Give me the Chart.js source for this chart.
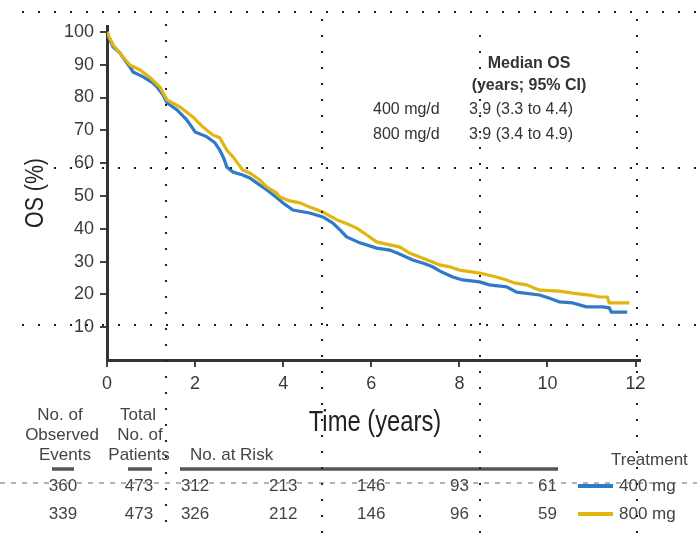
<!DOCTYPE html>
<html>
<head>
<meta charset="utf-8">
<script src="https://cdn.jsdelivr.net/npm/chart.js@4.4.1/dist/chart.umd.min.js"></script>
<style>
  html, body { margin: 0; padding: 0; background: #fff; }
  #wrap { width: 697px; height: 535px; }
</style>
</head>
<body>
<div id="wrap"><canvas id="osChart"></canvas></div>
<script>
// KM curves (time in years, OS in %)
const time400 = [0, 0.05, 0.14, 0.29, 0.4, 0.52, 0.59, 0.82, 1.04, 1.15, 1.27, 1.36, 1.59, 1.81, 1.9, 2.0, 2.27, 2.45, 2.56, 2.65, 2.72, 2.86, 3.08, 3.24, 3.4, 3.63, 3.85, 3.99, 4.22, 4.6, 4.9, 5.12, 5.3, 5.44, 5.74, 6.12, 6.42, 6.64, 6.94, 7.2, 7.39, 7.6, 7.85, 8.07, 8.46, 8.68, 9.07, 9.3, 9.82, 10.05, 10.27, 10.57, 10.88, 11.25, 11.4, 11.45, 11.81];
const os400 = [100, 98, 95.4, 93.6, 91.5, 89.3, 87.8, 86.3, 84.5, 83, 80.8, 78.4, 76.2, 73.2, 71.5, 69.5, 68.0, 66.2, 64.0, 61.5, 58.8, 57.3, 56.4, 55.5, 54.0, 51.8, 49.5, 47.9, 45.7, 44.8, 43.6, 41.8, 39.5, 37.5, 35.7, 34.1, 33.5, 32.3, 30.5, 29.4, 28.4, 26.8, 25.3, 24.4, 23.8, 22.9, 22.3, 20.7, 19.8, 18.8, 17.7, 17.4, 16.2, 16.2, 15.9, 14.6, 14.6];
const time800 = [0, 0.05, 0.14, 0.29, 0.52, 0.75, 0.98, 1.2, 1.36, 1.66, 1.95, 2.18, 2.4, 2.56, 2.72, 2.86, 3.08, 3.24, 3.47, 3.63, 3.85, 3.92, 4.15, 4.38, 4.6, 4.9, 5.22, 5.45, 5.67, 5.9, 6.12, 6.42, 6.64, 6.87, 7.1, 7.39, 7.55, 7.78, 8.0, 8.46, 8.84, 9.07, 9.25, 9.52, 9.82, 10.27, 10.57, 10.95, 11.18, 11.36, 11.4, 11.86];
const os800 = [100, 98.5, 96.0, 93.6, 89.9, 88.4, 86.0, 83.2, 79.3, 77.1, 74.1, 71.0, 68.6, 67.7, 64.0, 61.9, 57.9, 57.0, 54.9, 52.7, 50.9, 49.7, 48.5, 47.9, 46.6, 45.1, 42.7, 41.5, 40.2, 38.1, 36.0, 35.1, 34.5, 32.6, 31.4, 29.9, 29.0, 28.4, 27.4, 26.5, 25.3, 24.4, 23.5, 22.9, 21.3, 21.0, 20.4, 19.8, 19.2, 19.2, 17.4, 17.4];

const xTicks = [0, 2, 4, 6, 8, 10, 12];
const yTicks = [10, 20, 30, 40, 50, 60, 70, 80, 90, 100];

// risk table
const riskTimes = [2, 4, 6, 8, 10];
const risk400 = [312, 213, 146, 93, 61];
const risk800 = [326, 212, 146, 96, 59];
const observedEvents = [360, 339];
const totalPatients = [473, 473];
const armLabels = ['400 mg', '800 mg'];

// median OS box
const medianArms = ['400 mg/d', '800 mg/d'];
const medianValues = ['3.9 (3.3 to 4.4)', '3.9 (3.4 to 4.9)'];

const BLUE = '#2f79c9';
const GOLD = '#e1b512';
const FONT = '"Liberation Sans", Arial, sans-serif';

Chart.defaults.font.family = FONT;

const toXY = (ts, vs) => ts.map((t, i) => ({ x: t, y: vs[i] }));

// squeezed text, the original uses a condensed face for titles
function squeezed(ctx, text, x, y, size, sx, rot) {
  ctx.save();
  ctx.translate(x, y);
  if (rot) ctx.rotate(rot);
  ctx.scale(sx, 1);
  ctx.font = size + 'px ' + FONT;
  ctx.textAlign = 'center';
  ctx.textBaseline = 'middle';
  ctx.fillText(text, 0, 0);
  ctx.restore();
}

const extras = {
  id: 'extras',
  afterDraw(chart) {
    const ctx = chart.ctx;
    const xs = chart.scales.x;
    ctx.save();

    // axis titles
    ctx.fillStyle = '#222';
    squeezed(ctx, 'OS (%)', 36, 193, 26, 0.82, -Math.PI / 2);
    squeezed(ctx, 'Time (years)', 375, 423, 29, 0.82);

    // median OS box
    ctx.fillStyle = '#333';
    ctx.textBaseline = 'middle';
    ctx.font = 'bold 16px ' + FONT;
    ctx.textAlign = 'center';
    ctx.fillText('Median OS', 529, 64);
    ctx.fillText('(years; 95% CI)', 529, 86);
    ctx.font = '16px ' + FONT;
    ctx.textAlign = 'left';
    medianArms.forEach((a, i) => {
      ctx.fillText(a, 373, 110 + i * 25);
      ctx.fillText(medianValues[i], 469, 110 + i * 25);
    });

    // risk table headers
    ctx.fillStyle = '#444';
    ctx.font = '17px ' + FONT;
    ctx.textAlign = 'center';
    ctx.fillText('No. of', 60, 415);
    ctx.fillText('Observed', 62, 435);
    ctx.fillText('Events', 65, 455);
    ctx.fillText('Total', 138, 415);
    ctx.fillText('No. of', 140, 435);
    ctx.fillText('Patients', 139, 455);
    ctx.textAlign = 'left';
    ctx.fillText('No. at Risk', 190, 455);
    ctx.fillText('Treatment', 611, 460);

    ctx.strokeStyle = '#555';
    ctx.lineWidth = 3.5;
    [[52, 74], [128, 152], [180, 558]].forEach(([a, b]) => {
      ctx.beginPath();
      ctx.moveTo(a, 469);
      ctx.lineTo(b, 469);
      ctx.stroke();
    });

    // risk table rows
    const rows = [risk400, risk800];
    const colors = [BLUE, GOLD];
    rows.forEach((row, r) => {
      const y = 486 + r * 28;
      ctx.fillStyle = '#444';
      ctx.textAlign = 'center';
      ctx.fillText(String(observedEvents[r]), 63, y);
      ctx.fillText(String(totalPatients[r]), 139, y);
      row.forEach((n, i) => {
        ctx.fillText(String(n), xs.getPixelForValue(riskTimes[i]), y);
      });
      ctx.textAlign = 'left';
      ctx.fillText(armLabels[r], 619, y);
      ctx.strokeStyle = colors[r];
      ctx.lineWidth = 4;
      ctx.beginPath();
      ctx.moveTo(578, y);
      ctx.lineTo(613, y);
      ctx.stroke();
    });

    // scan artefacts: dotted guide rows and columns
    ctx.fillStyle = '#222';
    const dotRow = (y, x0, x1) => { for (let x = x0; x <= x1; x += 16) ctx.fillRect(x - 1, y - 1, 2, 2); };
    const dotCol = (x, y0, y1) => { for (let y = y0; y <= y1; y += 16) ctx.fillRect(x - 1, y - 1, 2, 2); };
    dotRow(12, 23, 697);
    dotRow(168, 55, 697);
    dotRow(325, 23, 697);
    dotCol(166, 25, 535);
    dotCol(322, 20, 535);
    dotCol(480, 36, 535);
    dotCol(637, 20, 535);
    ctx.strokeStyle = '#666';
    ctx.lineWidth = 1;
    ctx.setLineDash([5, 6]);
    ctx.beginPath();
    ctx.moveTo(0, 483);
    ctx.lineTo(697, 483);
    ctx.stroke();

    ctx.restore();
  }
};

new Chart(document.getElementById('osChart'), {
  type: 'line',
  data: {
    datasets: [
      {
        label: '800 mg',
        data: toXY(time800, os800),
        borderColor: GOLD,
        borderWidth: 3.2,
        tension: 0,
        pointRadius: 0,
        fill: false
      },
      {
        label: '400 mg',
        data: toXY(time400, os400),
        borderColor: BLUE,
        borderWidth: 3.2,
        tension: 0,
        pointRadius: 0,
        fill: false
      }
    ]
  },
  options: {
    responsive: true,
    maintainAspectRatio: false,
    animation: false,
    layout: { padding: { top: 26, right: 57, left: 0, bottom: 0 } },
    plugins: { legend: { display: false }, tooltip: { enabled: false } },
    scales: {
      x: {
        type: 'linear',
        min: 0,
        max: 12.1,
        afterBuildTicks: (s) => { s.ticks = xTicks.map(v => ({ value: v })); },
        afterFit: (s) => { s.height = 175; },
        grid: { drawOnChartArea: false, drawTicks: true, tickLength: 7, color: '#444', lineWidth: 2 },
        border: { display: true, color: '#333', width: 3 },
        ticks: { color: '#3a3a3a', font: { size: 18 }, padding: 6, maxRotation: 0 }
      },
      y: {
        min: 0,
        max: 101.8,
        afterBuildTicks: (s) => { s.ticks = yTicks.map(v => ({ value: v })); },
        afterFit: (s) => { s.width = 107; },
        grid: { drawOnChartArea: false, drawTicks: true, tickLength: 7, color: '#444', lineWidth: 2 },
        border: { display: true, color: '#333', width: 3 },
        ticks: { color: '#3a3a3a', font: { size: 18 }, padding: 6 }
      }
    }
  },
  plugins: [extras]
});
</script>
</body>
</html>
